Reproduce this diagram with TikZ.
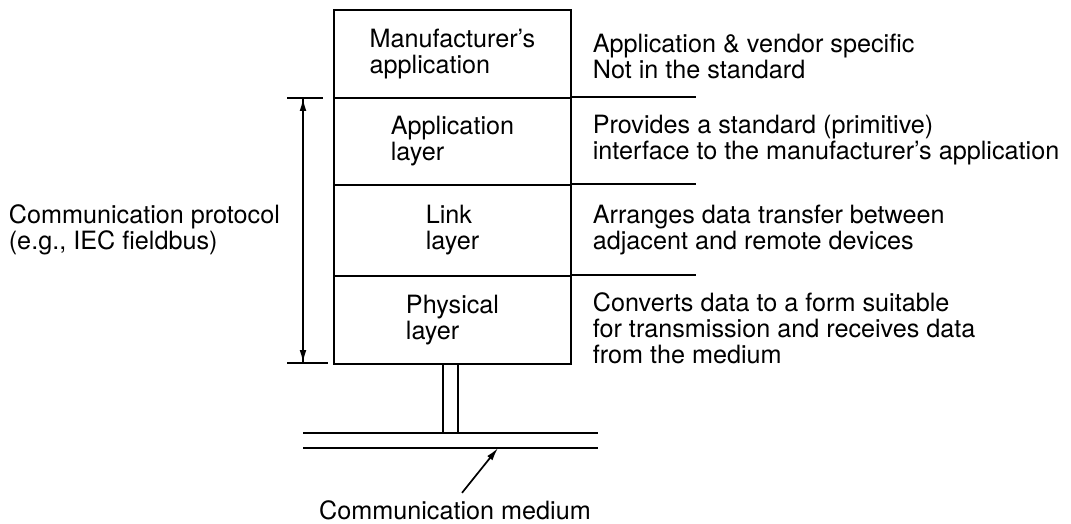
\documentclass[tikz,border=0pt]{standalone}
\usepackage{fontspec}
\setmainfont{TeX Gyre Heros}
\usepackage{tikz}
\usetikzlibrary{arrows.meta, positioning}

\begin{document}
\begin{tikzpicture}[x=0.5pt, y=-0.5pt, line width=0.85pt,
    font=\fontsize{12.6pt}{13pt}\selectfont,
    lyr/.style={draw, minimum width=118.5pt, inner sep=0pt, align=left},
    txt/.style={anchor=west, align=left, inner sep=0pt},
    tip/.style={-{Latex[length=6.5pt, width=3.4pt]}}]
    \useasboundingbox (0,0) rectangle (1071,524);

    % protocol stack
    \node[lyr, minimum height=44pt]   (man)  at (452.5, 54)    {Manufacturer's\\application};
    \node[lyr, minimum height=43.5pt] (app)  at (452.5, 141.5) {Application\\layer};
    \node[lyr, minimum height=45.5pt] (link) at (452.5, 230.5) {Link\\layer};
    \node[lyr, minimum height=44pt]   (phys) at (452.5, 320)   {Physical\\layer};
    \foreach \l in {app, link, phys} \draw (\l.north east) -- ++(124,0);

    % what each layer does
    \node[txt] (dman)  at (592, 56)  {Application \& vendor specific\\Not in the standard};
    \node[txt] (dapp)  at (592, 140) {Provides a standard (primitive)\\interface to the manufacturer's application};
    \node[txt] (dlink) at (592, 230) {Arranges data transfer between\\adjacent and remote devices};
    \node[txt] (dphys) at (592, 328) {Converts data to a form suitable\\for transmission and receives data\\from the medium};

    % span of the protocol
    \node[txt] (prot) at (8, 230) {Communication protocol\\(e.g., IEC fieldbus)};
    \coordinate (dtop) at (303, 98);
    \coordinate (dbot) at (303, 363);
    \draw (287, 98) -- (323, 98);
    \draw (287, 363) -- (328, 363);
    \draw[tip] (dbot) -- (dtop);
    \draw[tip] (dtop) -- (dbot);

    % drop to the bus
    \coordinate (busA) at (303, 433);
    \coordinate (busB) at (303, 448);
    \draw (phys.south -| 443, 0) -- (443, 433);
    \draw (phys.south -| 458, 0) -- (458, 433);
    \draw (busA) -- (598, 433);
    \draw (busB) -- (598, 448);

    \node (med) at (455, 510) {Communication medium};
    \coordinate (mtip) at (498, 448);
    \draw[tip] ([xshift=3.5pt]med.north) -- (mtip);
\end{tikzpicture}
\end{document}
